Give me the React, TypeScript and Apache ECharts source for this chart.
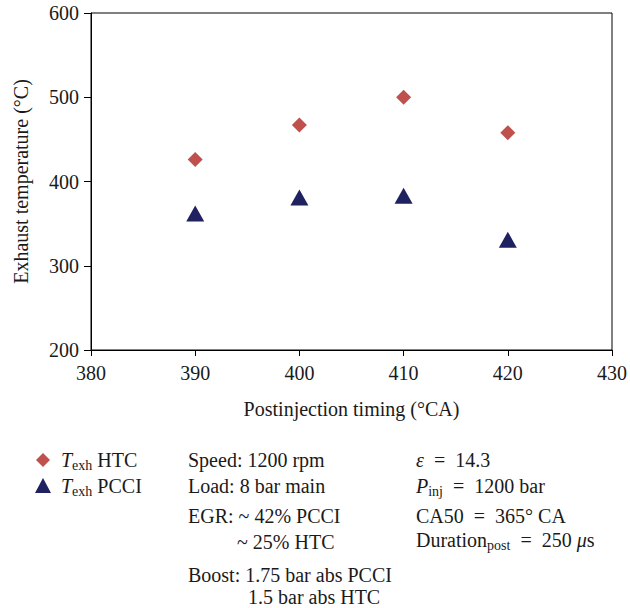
import React, { useEffect, useRef } from "react";
import * as echarts from "echarts";

const timing = [390, 400, 410, 420];
const htcTemp = [426, 467, 500, 458];
const pcciTemp = [362, 381, 383, 331];
const xTicks = { min: 380, max: 430, interval: 10 };
const yTicks = { min: 200, max: 600, interval: 100 };

const FONT = "'Liberation Serif', 'DejaVu Serif', serif";
const RED = "#C0504D";
const NAVY = "#1F2160";
const INK = "#1a1a1a";

export default function App() {
  const ref = useRef<HTMLDivElement>(null);
  useEffect(() => {
    document.body.style.margin = "0";
    const chart = echarts.init(ref.current!, null, { renderer: "svg" });
    const rich = {
      i: { fontFamily: FONT, fontSize: 20, fontStyle: "italic", color: INK },
      n: { fontFamily: FONT, fontSize: 20, color: INK },
      s: { fontFamily: FONT, fontSize: 14, color: INK, padding: [10, 0, 0, 0] },
    };
    const txt = (x: number, y: number, t: string) => ({
      type: "text",
      x,
      y,
      style: { text: t, rich, fontFamily: FONT, fontSize: 20, fill: INK, verticalAlign: "middle" },
    });
    chart.setOption({
      animation: false,
      textStyle: { fontFamily: FONT },
      grid: { left: 91, right: 16, top: 13, bottom: 258, show: true, borderColor: "#000", borderWidth: 1 },
      xAxis: {
        type: "value",
        min: xTicks.min,
        max: xTicks.max,
        interval: xTicks.interval,
        name: "Postinjection timing (°CA)",
        nameLocation: "middle",
        nameGap: 49,
        nameTextStyle: { fontFamily: FONT, fontSize: 20, color: INK },
        axisLine: { lineStyle: { color: "#000" } },
        axisTick: { show: true, length: 6, lineStyle: { color: "#000" } },
        axisLabel: { fontFamily: FONT, fontSize: 20, color: INK, margin: 13 },
        splitLine: { show: false },
      },
      yAxis: {
        type: "value",
        min: yTicks.min,
        max: yTicks.max,
        interval: yTicks.interval,
        name: "Exhaust temperature (°C)",
        nameLocation: "middle",
        nameGap: 60,
        nameTextStyle: { fontFamily: FONT, fontSize: 20, color: INK },
        axisLine: { show: true, lineStyle: { color: "#000" } },
        axisTick: { show: true, length: 7, lineStyle: { color: "#000" } },
        axisLabel: { fontFamily: FONT, fontSize: 20, color: INK, margin: 12 },
        splitLine: { show: false },
      },
      series: [
        {
          name: "HTC",
          type: "scatter",
          symbol: "diamond",
          symbolSize: [15, 15],
          itemStyle: { color: RED, opacity: 1 },
          data: timing.map((t, i) => [t, htcTemp[i]]),
        },
        {
          name: "PCCI",
          type: "scatter",
          symbol: "triangle",
          symbolSize: [18, 16],
          itemStyle: { color: NAVY, opacity: 1 },
          data: timing.map((t, i) => [t, pcciTemp[i]]),
        },
      ],
      graphic: [
        { type: "polygon", shape: { points: [[43, 453], [50, 460], [43, 467], [36, 460]] }, style: { fill: RED } },
        { type: "polygon", shape: { points: [[43, 478], [51, 493], [35, 493]] }, style: { fill: NAVY } },
        txt(61, 460, "{i|T}{s|exh}{n| HTC}"),
        txt(61, 486, "{i|T}{s|exh}{n| PCCI}"),
        txt(188, 460, "Speed: 1200 rpm"),
        txt(188, 486, "Load: 8 bar main"),
        txt(188, 516, "EGR: ~ 42% PCCI"),
        txt(237, 542, "~ 25% HTC"),
        txt(188, 575, "Boost: 1.75 bar abs PCCI"),
        txt(248, 597, "1.5 bar abs HTC"),
        txt(416, 460, "{i|ε}{n|  =  14.3}"),
        txt(416, 486, "{i|P}{s|inj}{n|  =  1200 bar}"),
        txt(416, 516, "CA50  =  365° CA"),
        txt(416, 540, "{n|Duration}{s|post}{n|  =  250 }{i|μ}{n|s}"),
      ],
    });
    return () => chart.dispose();
  }, []);
  return <div ref={ref} style={{ width: 630, height: 608 }} />;
}
